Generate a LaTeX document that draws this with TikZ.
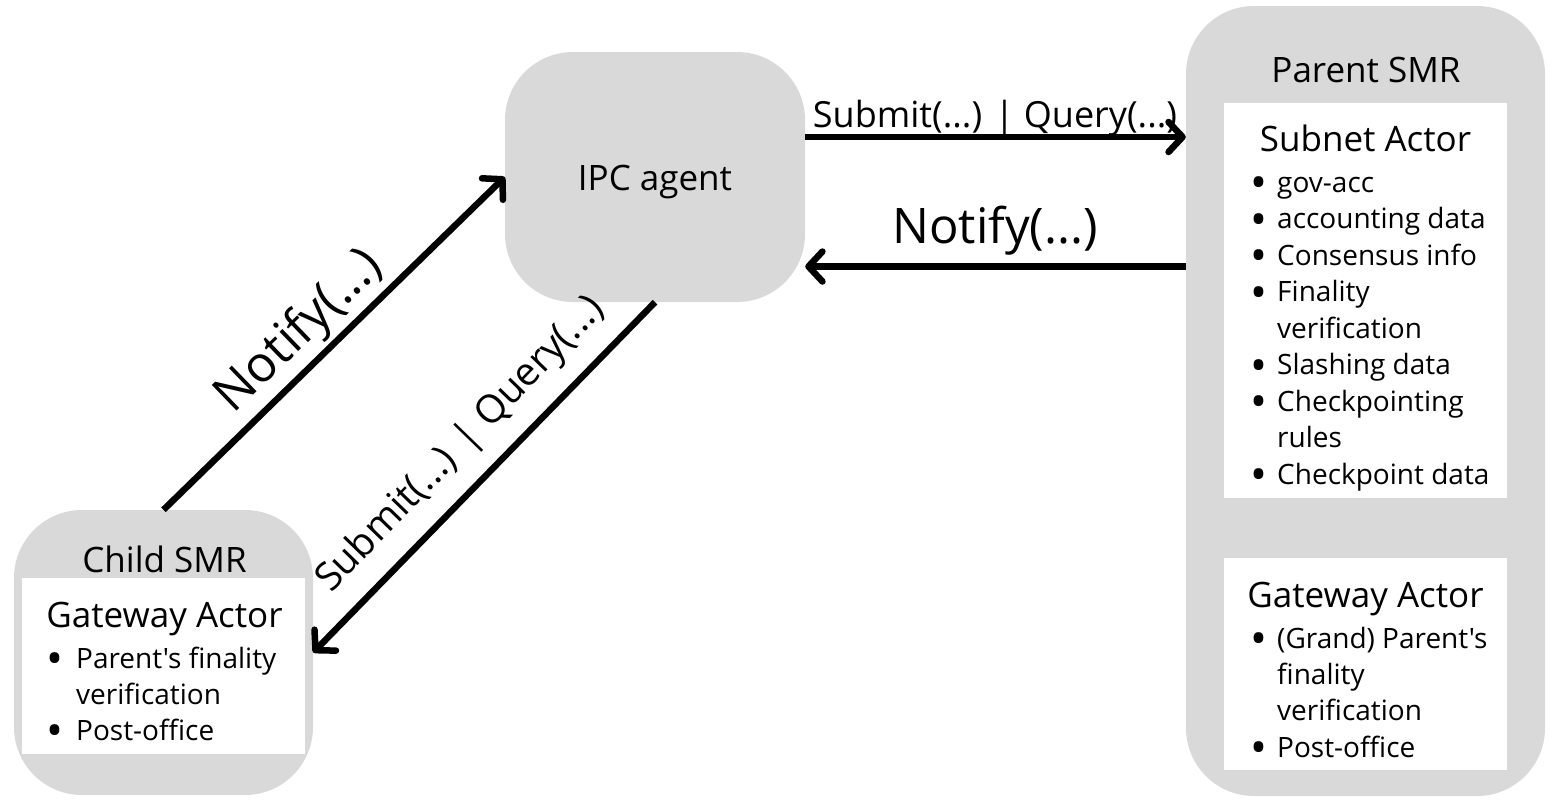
\documentclass[tikz,border=0pt]{standalone}
\usepackage{fontspec}
\setmainfont{Open Sans}[Ligatures=TeXOff]
\usetikzlibrary{arrows.meta,calc}
\definecolor{boxgray}{HTML}{D9D9D9}
\begin{document}
\begin{tikzpicture}[x=1pt,y=-1pt,
  outerbox/.style={draw=none, fill=boxgray, rounded corners=68pt, inner sep=0pt},
  whitebox/.style={draw=none, fill=white, inner sep=0pt},
  title/.style={font=\fontsize{35}{42}\selectfont, inner sep=0pt, anchor=base},
  item/.style={font=\fontsize{28}{34}\selectfont, inner sep=0pt, anchor=base west},
  bul/.style={font=\fontsize{45}{50}\selectfont, inner sep=0pt, anchor=center},
  conn/.style={line width=6.5pt, -{Straight Barb[length=14pt,width=30pt,line cap=round,line join=round]}},
  lbl/.style={inner sep=0pt, anchor=base}
]
\useasboundingbox (0,0) rectangle (1552,809);

% boxes
\node[outerbox, minimum width=299pt, minimum height=285pt] (child) at (163.5,652.5) {};
\node[whitebox, minimum width=283pt, minimum height=176pt] (childw) at (163.5,666) {};
\node[outerbox, minimum width=300pt, minimum height=250pt] (ipc) at (655,177) {};
\node[outerbox, minimum width=359pt, minimum height=790pt] (parent) at (1365.5,401) {};
\node[whitebox, minimum width=283pt, minimum height=395pt] (subw) at (1365.5,300.5) {};
\node[whitebox, minimum width=283pt, minimum height=212pt] (gww) at (1365.5,664) {};

% titles
\node[title] (ipct) at (655,190) {IPC agent};
\node[title] (childt) at (164.5,572) {Child SMR};
\node[title] (childga) at (164.5,627) {Gateway Actor};
\node[title] (part) at (1366,82) {Parent SMR};
\node[title] (subt) at (1365.5,151) {Subnet Actor};
\node[title] (pga) at (1365.5,607) {Gateway Actor};

% child list
\foreach \yy/\tx/\bb [count=\i] in {668/Parent's finality/1, 704/verification/0, 740/Post-office/1}{
  \node[item] (ci\i) at (76,\yy) {\tx};
  \ifnum\bb=1 \node[bul] (cb\i) at (54.5,\yy-4.5) {\textbullet};\fi
}
% subnet list
\foreach \yy/\tx/\bb [count=\i] in {192/gov-acc/1, 228.5/accounting data/1, 265/Consensus info/1, 301.5/Finality/1, 338/verification/0, 374.5/Slashing data/1, 411/Checkpointing/1, 447.5/rules/0, 484/Checkpoint data/1}{
  \node[item] (si\i) at (1277,\yy) {\tx};
  \ifnum\bb=1 \node[bul] (sb\i) at (1258.5,\yy-4) {\textbullet};\fi
}
% parent gateway list
\foreach \yy/\tx/\bb [count=\i] in {648/(Grand) Parent's/1, 684/finality/0, 720/verification/0, 757/Post-office/1}{
  \node[item] (gi\i) at (1277,\yy) {\tx};
  \ifnum\bb=1 \node[bul] (gb\i) at (1258.5,\yy-4) {\textbullet};\fi
}

% connectors
\coordinate (a1) at ($(ipc.east)+(0,-40)$);
\coordinate (a2) at ($(ipc.east)+(0,89.5)$);
\draw[conn] (a1) -- (a1 -| parent.west);
\draw[conn] (a2 -| parent.west) -- (a2);
\draw[conn] (child.north) -- (ipc.west);
\draw[conn] (ipc.south) -- (child.east);

% labels
\node[lbl, font=\fontsize{36}{44}\selectfont] (lsq) at (995,127) {Submit(...) | Query(...)};
\node[lbl, font=\fontsize{49}{58}\selectfont] (lnt) at (995,243) {Notify(...)};
\node[font=\fontsize{50}{60}\selectfont, rotate=44, inner sep=0pt] (lnd) at (300,332) {Notify(...)};
\node[font=\fontsize{39}{47}\selectfont, rotate=45.9, inner sep=0pt] (lsd) at (461,445) {Submit(...) | Query(...)};
\end{tikzpicture}
\end{document}
